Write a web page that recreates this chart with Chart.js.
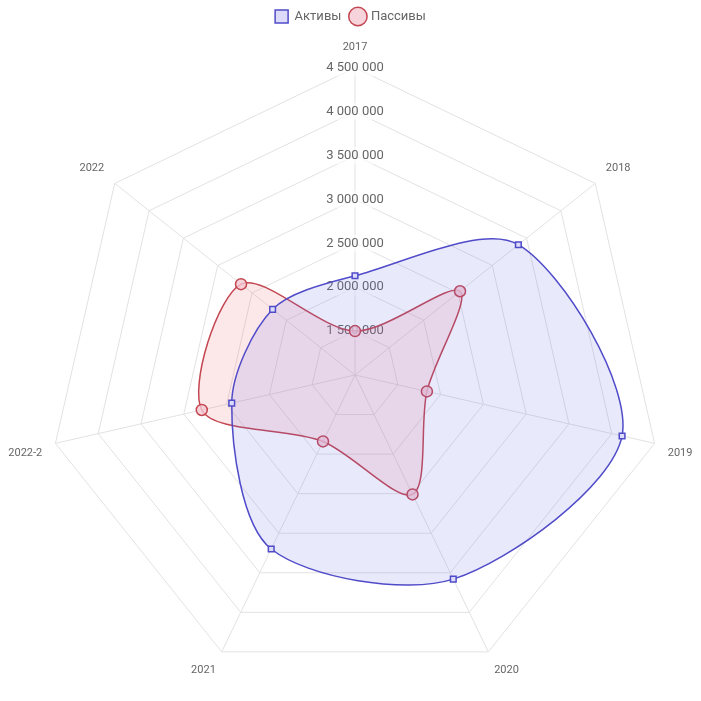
<!DOCTYPE html>
<html>
<head>
<meta charset="utf-8">
<script src="https://cdn.jsdelivr.net/npm/chart.js@4"></script>
<style>body{margin:0;background:#fff}#wrap{width:701px;height:701px}</style>
</head>
<body>
<div id="wrap"><canvas id="plot"></canvas></div>
<script>
var labels = ["2017", "2018", "2019", "2020", "2021", "2022-2", "2022"];
var assets = [2130000, 3380000, 4120000, 3580000, 3200000, 2440000, 2200000];
var liabilities = [1500000, 2530000, 1840000, 2510000, 1840000, 2790000, 2660000];

function fmt(v) {
	return String(Math.round(v)).replace(/\B(?=(\d{3})+(?!\d))/g, " ");
}

var ctx = document.getElementById("plot").getContext("2d");
var chart = new Chart(ctx, {
	type: "radar",
	data: {
		labels: labels,
		datasets: [
			{
				label: "Активы",
				data: assets,
				borderColor: "rgba(80,75,200,1)",
				backgroundColor: "rgba(110,110,235,0.15)",
				pointStyle: "rect",
				pointRadius: 4,
				pointBackgroundColor: "rgba(220,220,250,1)",
				pointBorderColor: "rgba(80,75,200,1)",
				borderWidth: 1.5,
				tension: 0.3,
				fill: true
			},
			{
				label: "Пассивы",
				data: liabilities,
				borderColor: "rgba(195,70,80,1)",
				backgroundColor: "rgba(240,100,110,0.15)",
				pointStyle: "circle",
				pointRadius: 5.5,
				pointBackgroundColor: "rgba(245,200,210,0.8)",
				pointBorderColor: "rgba(195,70,80,1)",
				borderWidth: 1.5,
				tension: 0.3,
				fill: true
			}
		]
	},
	options: {
		responsive: true,
		maintainAspectRatio: false,
		animation: false,
		plugins: {
			legend: {
				position: "top",
				labels: {usePointStyle: true, font: {size: 13, family: "Roboto"}, color: "#666"}
			}
		},
		scales: {
			r: {
				min: 1000000,
				max: 4500000,
				ticks: {
					stepSize: 500000,
					callback: fmt,
					font: {size: 13, family: "Roboto"},
					color: "#666",
					backdropColor: "rgba(255,255,255,0.6)"
				},
				pointLabels: {font: {size: 11, family: "Roboto"}, color: "#666"},
				grid: {color: "#e2e2e2"},
				angleLines: {color: "#e2e2e2"}
			}
		}
	}
});
</script>
</body>
</html>
